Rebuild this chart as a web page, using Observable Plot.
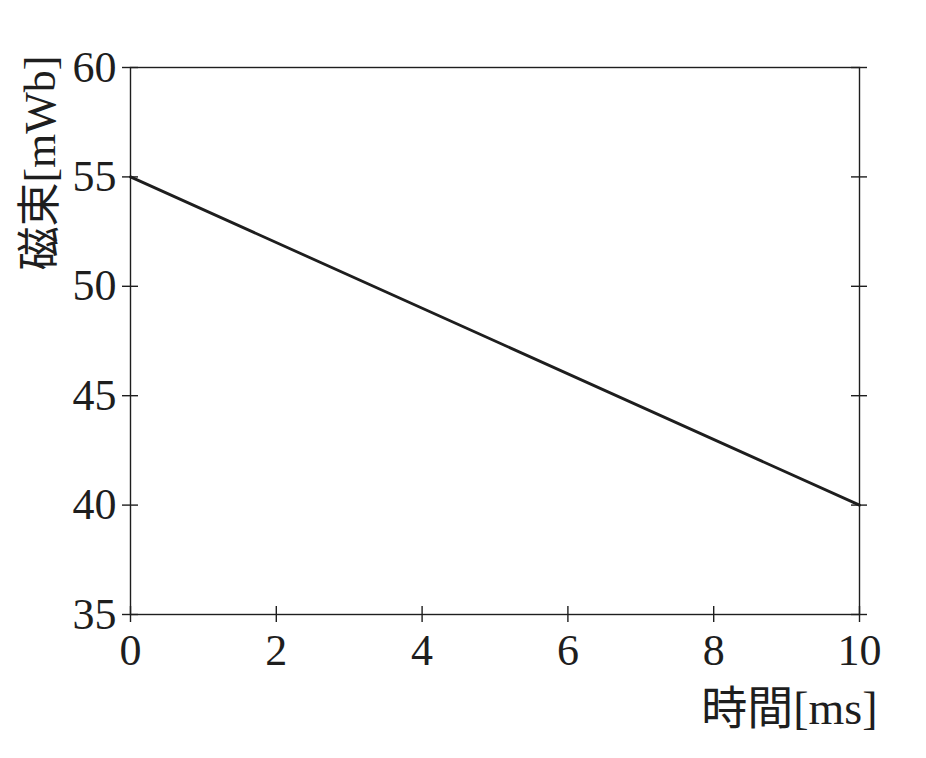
<!DOCTYPE html>
<html>
<head>
<meta charset="utf-8">
<script src="https://cdn.jsdelivr.net/npm/d3@7"></script>
<script src="https://cdn.jsdelivr.net/npm/@observablehq/plot@0.6"></script>
<style>
  html, body { margin: 0; padding: 0; background: #fff; }
</style>
</head>
<body>
<div id="chart"></div>
<script>
const timeMs = [0, 10];
const fluxMWb = [55, 40];
const xTicks = [0, 2, 4, 6, 8, 10];
const yTicks = [35, 40, 45, 50, 55, 60];
const xLabel = "時間[ms]";
const yLabel = "磁束[mWb]";

const data = timeMs.map((t, i) => ({t, f: fluxMWb[i]}));
const ink = "#1e1e1e";
const font = "'Liberation Serif', 'Noto Sans CJK JP', serif";

const chart = Plot.plot({
  width: 926,
  height: 758,
  marginLeft: 130,
  marginRight: 67,
  marginTop: 67,
  marginBottom: 144,
  style: {fontFamily: font, color: ink, background: "#fff"},
  x: {domain: [0, 10]},
  y: {domain: [35, 60]},
  marks: [
    Plot.frame({stroke: ink, strokeWidth: 1.4}),
    Plot.ruleX(xTicks, {x: d => d, y1: 35, y2: 35, insetTop: -8, insetBottom: -8, stroke: ink, strokeWidth: 1.4}),
    Plot.ruleY(yTicks, {y: d => d, x1: 0, x2: 0, insetLeft: -8, insetRight: -8, stroke: ink, strokeWidth: 1.4}),
    Plot.ruleY(yTicks, {y: d => d, x1: 10, x2: 10, insetLeft: -8, insetRight: -8, stroke: ink, strokeWidth: 1.4}),
    Plot.axisX(xTicks, {tickSize: 0, tickPadding: 19, fontSize: 44, label: null, fill: ink}),
    Plot.axisY(yTicks, {tickSize: 0, tickPadding: 14, fontSize: 44, label: null, fill: ink}),
    Plot.line(data, {x: "t", y: "f", stroke: ink, strokeWidth: 2.8}),
    Plot.text([xLabel], {frameAnchor: "bottom-right", text: d => d, textAnchor: "end", lineAnchor: "bottom", dx: 18, dy: 109, fontSize: 46, fill: ink}),
    Plot.text([yLabel], {frameAnchor: "top-left", text: d => d, rotate: -90, textAnchor: "end", lineAnchor: "middle", dx: -90, dy: -12, fontSize: 44, fill: ink})
  ]
});
document.getElementById("chart").appendChild(chart);
</script>
</body>
</html>
